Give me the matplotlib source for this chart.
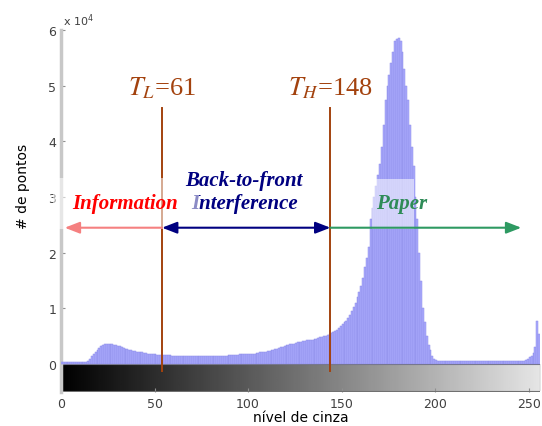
import numpy as np
import matplotlib
matplotlib.use("Agg")
import matplotlib.pyplot as plt
from matplotlib.patches import Rectangle

# gray levels 0..255 and histogram counts (in units of 1e4)
levels = list(range(256))
counts = (
    [0.03] * 14 +
    [0.06, 0.10, 0.14, 0.18, 0.22, 0.26, 0.29, 0.32, 0.34, 0.36,   # 14-23
     0.37, 0.37, 0.37, 0.36, 0.35, 0.34, 0.33, 0.32, 0.30, 0.29,   # 24-33
     0.28, 0.27, 0.26, 0.25, 0.24, 0.23, 0.22, 0.22, 0.21, 0.21,   # 34-43
     0.20, 0.20, 0.19, 0.19, 0.18, 0.18, 0.18, 0.17, 0.17, 0.17,   # 44-53
     0.17, 0.16, 0.16, 0.16, 0.16, 0.15, 0.15, 0.15, 0.15, 0.15,   # 54-63
     0.15, 0.15, 0.15, 0.15, 0.15, 0.15, 0.14, 0.14, 0.14, 0.14,   # 64-73
     0.14, 0.14, 0.14, 0.14, 0.14, 0.14, 0.14, 0.14, 0.14, 0.14,   # 74-83
     0.15, 0.15, 0.15, 0.15, 0.15, 0.16, 0.16, 0.16, 0.17, 0.17,   # 84-93
     0.17, 0.18, 0.18, 0.18, 0.18, 0.18, 0.18, 0.19, 0.19, 0.19,   # 94-103
     0.20, 0.20, 0.21, 0.21, 0.22, 0.22, 0.23, 0.24, 0.25, 0.26,   # 104-113
     0.27, 0.28, 0.29, 0.30, 0.31, 0.32, 0.34, 0.35, 0.36, 0.37,   # 114-123
     0.37, 0.38, 0.39, 0.40, 0.40, 0.41, 0.42, 0.43, 0.43, 0.44,   # 124-133
     0.44, 0.45, 0.46, 0.47, 0.48, 0.49, 0.50, 0.51, 0.53, 0.55,   # 134-143
     0.56, 0.58, 0.60, 0.62, 0.65, 0.68, 0.72, 0.75, 0.78, 0.82,   # 144-153
     0.88, 0.95, 1.03, 1.10, 1.20, 1.30, 1.40, 1.55, 1.75, 1.90,   # 154-163
     2.10, 2.60, 2.80, 3.00, 3.20, 3.40, 3.60, 3.90, 4.30, 4.75,   # 164-173
     5.00, 5.20, 5.40, 5.60, 5.80, 5.84, 5.86, 5.80, 5.60, 5.30,   # 174-183
     5.00, 4.75, 4.30, 3.90, 3.55, 3.00, 2.60, 2.00, 1.50, 1.00,   # 184-193
     0.75, 0.50, 0.35, 0.25, 0.15, 0.10, 0.08] +                   # 194-200
    [0.05] * 47 +                                                   # 201-247
    [0.07, 0.10, 0.12, 0.15, 0.20, 0.30, 0.77, 0.55]              # 248-255
)

xticks = [0, 50, 100, 150, 200, 250]
yticks = [0, 1, 2, 3, 4, 5, 6]
t_low, t_high = 54, 144          # drawn positions of the thresholds
t_low_label, t_high_label = 61, 148

fig = plt.figure(figsize=(5.42, 4.27), dpi=100)
ax = fig.add_axes([0.1125, 0.0796, 0.8838, 0.8478])
ax.set_xlim(0, 256)
ax.set_ylim(-0.5, 6)

# grayscale bar
grad = np.linspace(0, 0.9, 256).reshape(1, -1)
ax.imshow(grad, cmap="gray", vmin=0, vmax=1, aspect="auto",
          extent=[0, 256, -0.48, 0], zorder=1)
ax.add_patch(Rectangle((0, -0.48), 256, 0.48, fill=False, ec="#707070", lw=0.8, zorder=2))

# histogram
ax.bar(levels, counts, width=1.0, align="edge", color="#aaaafc",
       edgecolor="#8c8ce8", linewidth=0.35, zorder=3)

# threshold lines
brown = "#a3420e"
for t in (t_low, t_high):
    ax.plot([t, t], [-0.12, 4.6], color=brown, lw=1.4, zorder=5)

serif = ["Liberation Serif", "DejaVu Serif"]
ax.text(t_low, 4.85, r"$T_L$=" + str(t_low_label), color=brown, fontsize=19,
        family=serif, ha="center", va="baseline", zorder=8,
        math_fontfamily="stix")
ax.text(t_high, 4.85, r"$T_H$=" + str(t_high_label), color=brown, fontsize=19,
        family=serif, ha="center", va="baseline", zorder=8,
        math_fontfamily="stix")

# texts under the translucent patches
ax.text(98, 2.9, "Interference", color="#000080", fontsize=15, family=serif,
        style="italic", weight="bold", ha="center", va="center", zorder=5.5)

# translucent white patches (as in the pasted labels)
ax.add_patch(Rectangle((166, 2.42), 22.5, 0.9, color="white", alpha=0.55, lw=0, zorder=6))
ax.add_patch(Rectangle((-4, 2.42), 77.5, 0.92, color="white", alpha=0.55, lw=0,
                       zorder=6, clip_on=False))

# arrows
ya = 2.45
aprops = dict(lw=1.5, shrinkA=0, shrinkB=0)
ax.annotate("", xy=(2, ya), xytext=(t_low, ya),
            arrowprops=dict(arrowstyle="-|>,head_length=0.9,head_width=0.35",
                            color="#f58080", **aprops), zorder=7)
ax.annotate("", xy=(t_low, ya), xytext=(t_high, ya),
            arrowprops=dict(arrowstyle="<|-|>,head_length=0.9,head_width=0.35",
                            color="#000080", **aprops), zorder=7)
ax.annotate("", xy=(246, ya), xytext=(t_high, ya),
            arrowprops=dict(arrowstyle="-|>,head_length=0.9,head_width=0.35",
                            color="#2e9a62", **aprops), zorder=7)

ax.text(34, 2.9, "Information", color="#ff0000", fontsize=15, family=serif,
        style="italic", weight="bold", ha="center", va="center", zorder=8)
ax.text(98, 3.3, "Back-to-front", color="#000080", fontsize=15, family=serif,
        style="italic", weight="bold", ha="center", va="center", zorder=8)
ax.text(182, 2.9, "Paper", color="#2e8b57", fontsize=15, family=serif,
        style="italic", weight="bold", ha="center", va="center", zorder=8)

# axes styling
for s in ("top", "right", "bottom"):
    ax.spines[s].set_visible(False)
ax.spines["left"].set_color("#c8c8c8")
ax.spines["left"].set_linewidth(2.5)
ax.set_xticks(xticks)
ax.set_yticks(yticks)
ax.tick_params(axis="both", colors="#909090", labelcolor="#404040",
               labelsize=9, length=3, direction="in")
ax.set_xlabel("nível de cinza", fontsize=10, labelpad=0)
ax.set_ylabel("# de pontos", fontsize=10)
ax.yaxis.set_label_coords(-0.064, 0.57)
ax.text(0.005, 1.005, r"x 10$^4$", transform=ax.transAxes, fontsize=8,
        color="#404040", ha="left", va="bottom")

fig.savefig("out.png", dpi=100)
